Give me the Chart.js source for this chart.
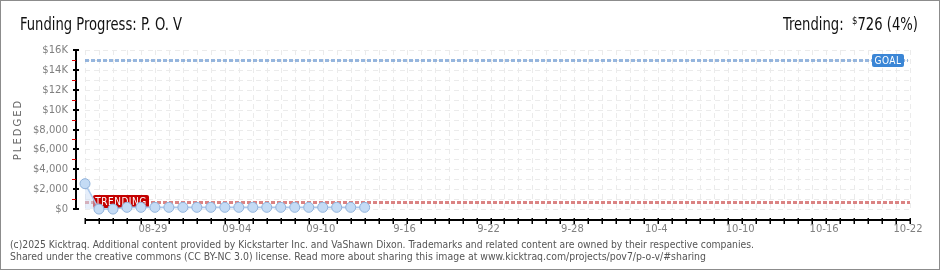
<!DOCTYPE html>
<html>
<head>
<meta charset="utf-8">
<script src="https://cdn.jsdelivr.net/npm/chart.js@4.4.1/dist/chart.umd.min.js"></script>
<style>
  html, body { margin: 0; padding: 0; background: #fff; }
  #box { position: relative; width: 940px; height: 270px; overflow: hidden; }
  #frame { position: absolute; left: 0; top: 0; width: 938px; height: 268px; border: 1px solid #8c8c8c; pointer-events: none; }
  canvas { position: absolute; left: 0; top: 0; }
  .t { position: absolute; white-space: nowrap; transform-origin: 0 0; line-height: 1; }
  #title { left: 20px; top: 14px; font: 17px "DejaVu Sans Condensed", sans-serif; color: #111; }
  #trending { left: 783px; top: 14px; font: 17px "DejaVu Sans Condensed", sans-serif; color: #111; }
  #trending sup { font-size: 11px; vertical-align: 6px; line-height: 0; }
  .foot { left: 10px; font: 10px "DejaVu Sans Condensed", sans-serif; color: #555; }
  #foot1 { top: 239px; }
  #foot2 { top: 251px; }
</style>
</head>
<body>
<div id="box">
  <canvas id="chart" width="940" height="270"></canvas>
  <div id="title" class="t" data-w="162">Funding Progress: P. O. V</div>
  <div id="trending" class="t" data-w="135">Trending:&nbsp;&nbsp;<sup>$</sup>726 (4%)</div>
  <div id="foot1" class="t foot" data-w="744">(c)2025 Kicktraq. Additional content provided by Kickstarter Inc. and VaShawn Dixon. Trademarks and related content are owned by their respective companies.</div>
  <div id="foot2" class="t foot" data-w="696">Shared under the creative commons (CC BY-NC 3.0) license. Read more about sharing this image at www.kicktraq.com/projects/pov7/p-o-v/#sharing</div>
  <div id="frame"></div>
</div>
<script>
// one category per day, 08-24 .. 10-22
const days = [
  '08-24','08-25','08-26','08-27','08-28','08-29','08-30','08-31',
  '09-01','09-02','09-03','09-04','09-05','09-06','09-07','09-08','09-09','09-10',
  '09-11','09-12','09-13','09-14','09-15','09-16','09-17','09-18','09-19','09-20',
  '09-21','09-22','09-23','09-24','09-25','09-26','09-27','09-28','09-29','09-30',
  '10-01','10-02','10-03','10-04','10-05','10-06','10-07','10-08','10-09','10-10',
  '10-11','10-12','10-13','10-14','10-15','10-16','10-17','10-18','10-19','10-20',
  '10-21','10-22'
];
// pledged total per day (08-24 .. 09-13)
const pledged = [2550, 0, 0, 175, 175, 175, 175, 175, 175, 175, 175,
                 175, 175, 175, 175, 175, 175, 175, 175, 175, 175];
const goal = 15000;
const trend = 726;

const yTicks = [0, 1000, 2000, 3000, 4000, 5000, 6000, 7000, 8000,
                9000, 10000, 11000, 12000, 13000, 14000, 15000, 16000];
const yTickLabels = {0: '$0', 2000: '$2,000', 4000: '$4,000', 6000: '$6,000', 8000: '$8,000',
                     10000: '$10K', 12000: '$12K', 14000: '$14K', 16000: '$16K'};
const xTickDays = ['08-29','09-04','09-10','09-16','09-22','09-28','10-04','10-10','10-16','10-22'];
const xTickLabels = ['08-29','09-04','09-10','9-16','9-22','9-28','10-4','10-10','10-16','10-22'];

const axisFont = '10px "DejaVu Sans", sans-serif';

const kicktraqAxes = {
    id: 'kicktraqAxes',
    beforeDatasetsDraw(chart) {
        const ctx = chart.ctx;
        const x = chart.scales.x, y = chart.scales.y;
        const left = x.getPixelForValue(0), right = x.getPixelForValue(days.length - 1);
        const top = y.getPixelForValue(16000), zero = y.getPixelForValue(0);
        ctx.save();

        // dashed grid
        ctx.strokeStyle = '#ebebeb';
        ctx.lineWidth = 1;
        ctx.setLineDash([5, 4]);
        yTicks.forEach(v => {
            const py = Math.round(y.getPixelForValue(v)) + 0.5;
            ctx.beginPath(); ctx.moveTo(left, py); ctx.lineTo(right, py); ctx.stroke();
        });
        days.forEach((d, i) => {
            const px = Math.round(x.getPixelForValue(i)) + 0.5;
            ctx.beginPath(); ctx.moveTo(px, top); ctx.lineTo(px, zero); ctx.stroke();
        });
        ctx.setLineDash([]);

        // y axis
        const ax = left - 9;
        ctx.strokeStyle = '#000';
        ctx.lineWidth = 2;
        ctx.beginPath(); ctx.moveTo(ax, top); ctx.lineTo(ax, zero + 1); ctx.stroke();
        ctx.font = axisFont;
        ctx.textAlign = 'right';
        ctx.textBaseline = 'middle';
        yTicks.forEach(v => {
            const py = Math.round(y.getPixelForValue(v));
            if (yTickLabels[v] !== undefined) {
                ctx.fillStyle = '#000';
                ctx.fillRect(ax - 3, py - 1, 6, 2);
                ctx.fillStyle = '#808080';
                ctx.fillText(yTickLabels[v], ax - 8, py);
            } else {
                ctx.fillStyle = '#e00000';
                ctx.fillRect(ax - 4, py, 4, 1);
            }
        });

        // x axis
        const ay = chart.chartArea.bottom;
        ctx.strokeStyle = '#000';
        ctx.lineWidth = 2;
        ctx.beginPath(); ctx.moveTo(left, ay); ctx.lineTo(right + 1, ay); ctx.stroke();
        ctx.fillStyle = '#000';
        days.forEach((d, i) => {
            const px = Math.round(x.getPixelForValue(i));
            ctx.fillRect(px - 0.5, ay - 2, 1.5, 6);
        });
        ctx.fillStyle = '#808080';
        ctx.textAlign = 'center';
        ctx.textBaseline = 'middle';
        xTickDays.forEach((d, k) => {
            const px = x.getPixelForValue(days.indexOf(d));
            ctx.fillText(xTickLabels[k], px - 2, ay + 9);
        });

        // PLEDGED axis title
        ctx.save();
        ctx.translate(18, (top + zero) / 2);
        ctx.rotate(-Math.PI / 2);
        ctx.fillStyle = '#666';
        ctx.font = '10px "DejaVu Sans", sans-serif';
        ctx.letterSpacing = '2px';
        ctx.textAlign = 'center';
        ctx.fillText('PLEDGED', 0, 0);
        ctx.restore();

        // goal & trend lines
        const line = (val, color, endX) => {
            const py = Math.round(y.getPixelForValue(val)) + 0.5;
            ctx.strokeStyle = color;
            ctx.lineWidth = 3;
            ctx.setLineDash([4, 2]);
            ctx.beginPath(); ctx.moveTo(left, py); ctx.lineTo(endX, py); ctx.stroke();
            ctx.setLineDash([]);
            return py;
        };
        const gy = line(goal, 'rgba(125,165,215,0.8)', right - 2);
        const ty = line(trend, 'rgba(210,100,100,0.8)', right);

        // labels
        const tag = (text, cx, cy, w, color) => {
            ctx.fillStyle = color;
            ctx.beginPath();
            ctx.roundRect(cx - w / 2, cy - 6.5, w, 13, 2);
            ctx.fill();
            ctx.fillStyle = '#fff';
            ctx.font = '10px "DejaVu Sans Condensed", sans-serif';
            ctx.letterSpacing = '0.5px';
            ctx.textAlign = 'center';
            ctx.textBaseline = 'middle';
            ctx.fillText(text, cx, cy + 0.5);
        };
        tag('GOAL', right - 22, gy, 32, '#3b86d6');
        tag('TRENDING', left + 36, ty - 1, 56, '#c40000');

        ctx.restore();
    }
};

new Chart(document.getElementById('chart'), {
    type: 'line',
    data: {
        labels: days,
        datasets: [{
            label: 'Pledged',
            data: pledged,
            borderColor: '#a9c7ec',
            borderWidth: 1.5,
            backgroundColor: 'rgba(205,222,245,0.5)',
            fill: 'origin',
            tension: 0,
            pointRadius: 5,
            pointBackgroundColor: '#c4dbf5',
            pointBorderColor: '#8fb1da',
            pointBorderWidth: 1,
            clip: false
        }]
    },
    options: {
        responsive: false,
        animation: false,
        events: [],
        layout: { padding: { left: 85, right: 30, top: 50, bottom: 50 } },
        plugins: { legend: { display: false }, tooltip: { enabled: false } },
        scales: {
            x: { type: 'category', display: false, offset: false },
            y: { type: 'linear', display: false, min: -1100, max: 16000 }
        }
    },
    plugins: [kicktraqAxes]
});

// squeeze the html text to the widths seen in the reference
document.querySelectorAll('.t[data-w]').forEach(el => {
    const w = el.getBoundingClientRect().width;
    el.style.transform = 'scaleX(' + (Number(el.dataset.w) / w) + ')';
});
</script>
</body>
</html>
